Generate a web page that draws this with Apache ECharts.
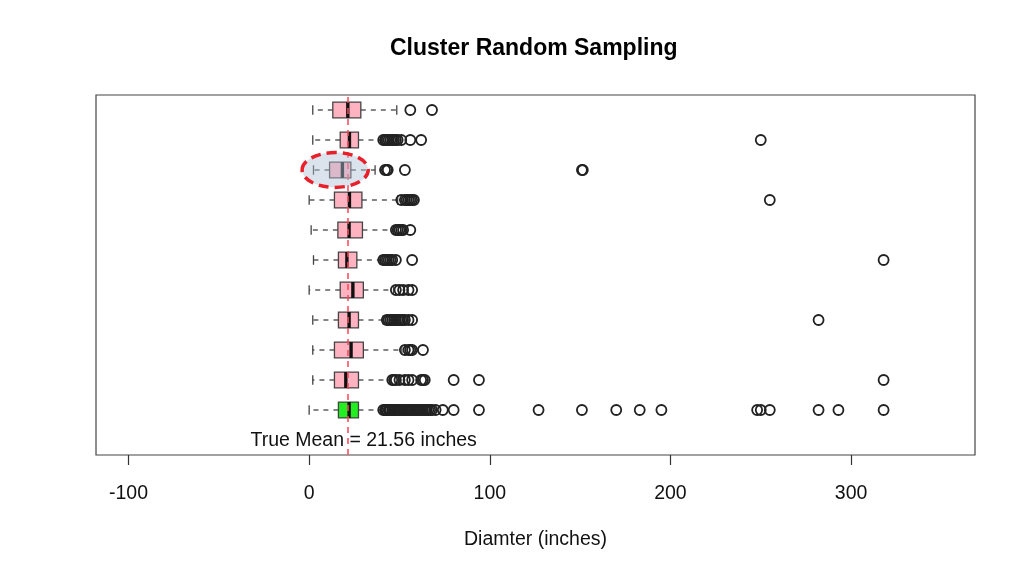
<!DOCTYPE html>
<html><head><meta charset="utf-8">
<script src="https://cdn.jsdelivr.net/npm/echarts@6/dist/echarts.min.js"></script>
<style>html,body{margin:0;padding:0;background:#fff}#c{width:1024px;height:575px}</style>
</head><body><div id="c"></div>
<script>
// rows from bottom (0 = population, green) to top
const rowIndex    = [0, 1, 2, 3, 4, 5, 6, 7, 8, 9, 10];
const isPopulation = [1, 0, 0, 0, 0, 0, 0, 0, 0, 0, 0];
const whiskerLow  = [0, 2, 2, 2, 0, 2.4, 1.1, 0, 2.4, 2, 2];
const quart1      = [16.2, 14, 14, 16.2, 17.2, 16.2, 15.9, 14, 11.3, 17.2, 13.1];
const medians     = [22.1, 20.3, 23.2, 22.1, 24.2, 20.9, 22.1, 22.3, 18.4, 22.3, 21.4];
const quart3      = [27.3, 27.3, 30, 27.3, 30, 26.4, 29.5, 29.2, 23.1, 27.3, 28.6];
const whiskerHigh = [40.2, 44.8, 51.3, 41, 46.7, 39.3, 46.7, 49, 36.5, 40.2, 48.5];
const outliers = [
  [41,42,42.5,43,44,44.5,45,46,47,47.5,48,49,50,51,52,53,54,55,56,57,58,59,60,61,62,63,64,65,66,67,68,70,74,80,94,127,151,170,183,195,248,250,255,282,293,318],
  [46,47,48,50,53,55,57,62,63,64,80,94,318],
  [53,55,56,57,63],
  [43,44,45,46,47,48,49,50,51,52,53,55,57,282],
  [48,50,52,55,57],
  [41,42,43,44,45,46,48,57,318],
  [48,49,50,51,52,56],
  [51,53,54,55,56,57,58,255],
  [42,43,43.5,53,151,151.5],
  [41,42,43,44,45,46,47,48,49,51,56,62,250],
  [56,68]
];
const trueMean = 21.56;
const highlightRow = 8;
const xTicks = [-100, 0, 100, 200, 300];

const boxData = rowIndex.map((r, i) => [r, whiskerLow[i], quart1[i], medians[i], quart3[i], whiskerHigh[i], isPopulation[i]]);
const outlierData = [];
outliers.forEach((list, r) => list.forEach(v => outlierData.push([v, r])));

const FONT = 'Liberation Sans, Arial, Helvetica, sans-serif';
const chart = echarts.init(document.getElementById('c'));
chart.setOption({
  animation: false,
  backgroundColor: '#fff',
  title: {
    text: 'Cluster Random Sampling', left: 390, top: 37, padding: 0,
    textStyle: {fontFamily: FONT, fontSize: 23, fontWeight: 'bold', color: '#000'}
  },
  grid: {left: 96, right: 49, top: 95, bottom: 120, show: true, borderColor: '#444', borderWidth: 1.2, backgroundColor: 'transparent'},
  xAxis: {
    type: 'value', min: -118, max: 368.6,
    name: 'Diamter (inches)', nameLocation: 'middle', nameGap: 75,
    nameTextStyle: {fontFamily: FONT, fontSize: 19.5, color: '#111'},
    axisLine: {show: false, onZero: false},
    axisTick: {show: true, length: 10, lineStyle: {color: '#333', width: 1.2}, customValues: xTicks},
    axisLabel: {fontFamily: FONT, fontSize: 19.5, color: '#111', margin: 29, customValues: xTicks},
    splitLine: {show: false}
  },
  yAxis: {type: 'value', min: -1.5, max: 10.5, show: false, splitLine: {show: false}},
  series: [
    {
      type: 'custom', z: 2,
      data: boxData,
      encode: {x: [1, 2, 3, 4, 5], y: 0},
      renderItem: function (params, api) {
        const row = api.value(0);
        const lo = api.coord([api.value(1), row]);
        const q1 = api.coord([api.value(2), row]);
        const md = api.coord([api.value(3), row]);
        const q3 = api.coord([api.value(4), row]);
        const hi = api.coord([api.value(5), row]);
        const h = api.size([0, 0.53])[1];
        const cap = h * 0.3;
        const y = lo[1];
        const fill = api.value(6) === 1 ? '#22EE22' : '#FFB3C1';
        const ls = {stroke: '#444', lineWidth: 1.3};
        return {type: 'group', children: [
          {type: 'line', shape: {x1: q1[0], y1: y, x2: lo[0], y2: y}, style: Object.assign({lineDash: [5, 5]}, ls)},
          {type: 'line', shape: {x1: q3[0], y1: y, x2: hi[0], y2: y}, style: Object.assign({lineDash: [5, 5]}, ls)},
          {type: 'line', shape: {x1: lo[0], y1: y - cap, x2: lo[0], y2: y + cap}, style: ls},
          {type: 'line', shape: {x1: hi[0], y1: y - cap, x2: hi[0], y2: y + cap}, style: ls},
          {type: 'rect', shape: {x: q1[0], y: y - h / 2, width: q3[0] - q1[0], height: h}, style: {fill: fill, stroke: '#444', lineWidth: 1.3}},
          {type: 'line', shape: {x1: md[0], y1: y - h / 2, x2: md[0], y2: y + h / 2}, style: {stroke: '#111', lineWidth: 3.4}}
        ]};
      },
      markLine: {
        silent: true, symbol: ['none', 'none'], label: {show: false}, z: 5,
        lineStyle: {color: '#FF4458', type: [6, 5], width: 1.5, opacity: 1},
        data: [{xAxis: trueMean}]
      }
    },
    {
      type: 'scatter', z: 3,
      data: outlierData,
      symbol: 'circle', symbolSize: 10,
      itemStyle: {color: 'rgba(0,0,0,0)', borderColor: '#222', borderWidth: 1.8, opacity: 1}
    },
    {
      type: 'custom', z: 6,
      data: [[14.4, highlightRow, 18.3, 0.58]],
      renderItem: function (params, api) {
        const c = api.coord([api.value(0), api.value(1)]);
        const s = api.size([api.value(2), api.value(3)]);
        return {type: 'ellipse', shape: {cx: c[0], cy: c[1], rx: s[0], ry: s[1]},
          style: {fill: 'rgba(175,192,212,0.45)', stroke: '#E8202A', lineWidth: 3.5, lineDash: [10, 6]}};
      }
    },
    {
      type: 'scatter', z: 7, symbolSize: 0, silent: true,
      itemStyle: {opacity: 1},
      data: [[30.16, -1.03]],
      label: {show: true, position: 'inside', formatter: 'True Mean = ' + trueMean + ' inches',
        fontFamily: FONT, fontSize: 19.5, color: '#111', opacity: 1}
    }
  ]
});
</script></body></html>
